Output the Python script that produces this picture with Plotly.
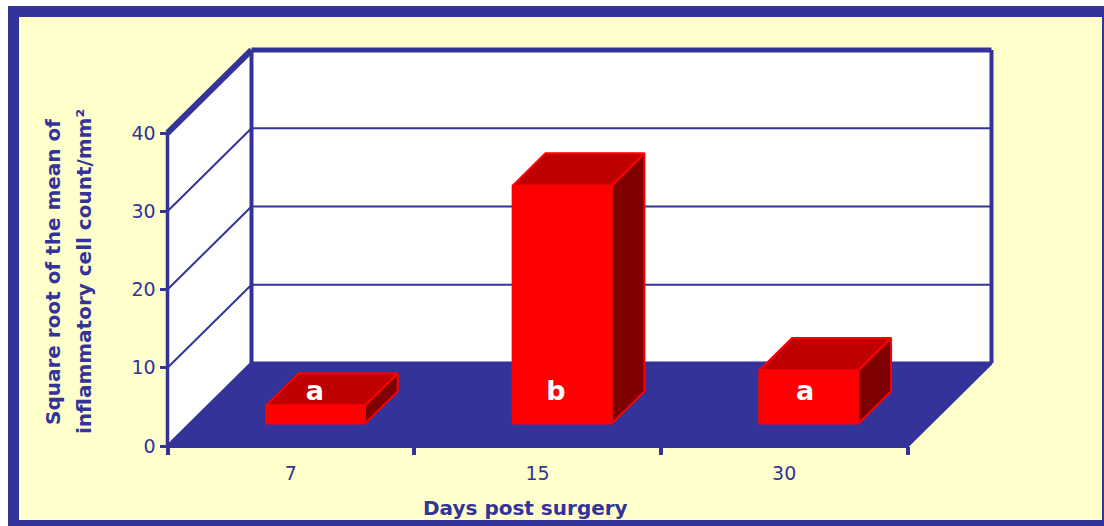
import plotly.graph_objects as go

days = ["7", "15", "30"]
values = [2.3, 30.4, 6.8]
bar_letters = ["a", "b", "a"]
y_ticks = [0, 10, 20, 30, 40]
y_title_lines = ["Square root of the mean of", "inflammatory cell count/mm²"]
x_title = "Days post surgery"

NAVY = "#333399"
YELLOW = "#FFFFCC"
W, H = 1104, 526
X0_PX, Y0_PX = 167.5, 446.0
CAT_PX, UNIT_PX = 740 / 3, 7.825
DEPTH_X = 84 / CAT_PX      # wall depth in category units
DEPTH_Y = 83 / UNIT_PX     # wall depth in value units
BAR_W = 99 / CAT_PX
BAR_SHIFT = 0.008
BAR_FRONT, BAR_BACK = 0.27, 0.66
LABEL_LEVEL = 6.7
LABEL_OFFSETS = [0.097, 0.075, 0.085]


def pt(cat, val, depth=0.0):
    return cat + depth * DEPTH_X, val + depth * DEPTH_Y


def poly(points, fill, line, width, name):
    xs, ys = zip(*(points + points[:1]))
    return go.Scatter(x=xs, y=ys, mode="lines", fill="toself", fillcolor=fill,
                      line=dict(color=line, width=width), hoverinfo="skip",
                      showlegend=False, name=name)


def seg(a, b, width, name="grid"):
    return go.Scatter(x=[a[0], b[0]], y=[a[1], b[1]], mode="lines",
                      line=dict(color=NAVY, width=width), hoverinfo="skip",
                      showlegend=False, name=name)


ncat = len(days)
top = y_ticks[-1]
fig = go.Figure()

# walls and floor
fig.add_trace(poly([pt(0, 0, 1), pt(ncat, 0, 1), pt(ncat, top, 1), pt(0, top, 1)], "white", NAVY, 0, "back wall"))
fig.add_trace(poly([pt(0, 0), pt(0, 0, 1), pt(0, top, 1), pt(0, top)], "white", NAVY, 0, "side wall"))
fig.add_trace(poly([pt(0, 0), pt(ncat, 0), pt(ncat, 0, 1), pt(0, 0, 1)], NAVY, NAVY, 3, "floor"))

# gridlines
for t in y_ticks[1:-1]:
    fig.add_trace(seg(pt(0, t), pt(0, t, 1), 2))
    fig.add_trace(seg(pt(0, t, 1), pt(ncat, t, 1), 2))

# wall edges
fig.add_trace(seg(pt(0, 0), pt(0, top), 3.5, "edge"))
fig.add_trace(seg(pt(0, 0, 1), pt(0, top, 1), 4, "edge"))
fig.add_trace(seg(pt(0, top), pt(0, top, 1), 6, "edge"))
fig.add_trace(seg(pt(0, top, 1), pt(ncat, top, 1), 5, "edge"))
fig.add_trace(seg(pt(ncat, 0, 1), pt(ncat, top, 1), 4, "edge"))
fig.add_trace(seg(pt(0, 0), pt(ncat, 0), 4, "edge"))

# bars
for i, v in enumerate(values):
    left = i + 0.5 + BAR_SHIFT - BAR_W / 2
    right = left + BAR_W
    f, b = BAR_FRONT, BAR_BACK
    fig.add_trace(poly([pt(right, 0, f), pt(right, 0, b), pt(right, v, b), pt(right, v, f)],
                       "#7F0000", "#FF0000", 2, "bar side"))
    fig.add_trace(poly([pt(left, v, f), pt(left, v, b), pt(right, v, b), pt(right, v, f)],
                       "#BF0000", "#FF0000", 2, "bar top"))
    fig.add_trace(poly([pt(left, 0, f), pt(right, 0, f), pt(right, v, f), pt(left, v, f)],
                       "#FF0000", "#FF0000", 2, "bar front"))

# letters
fig.add_trace(go.Scatter(
    x=[i + 0.5 + LABEL_OFFSETS[i] for i in range(ncat)], y=[LABEL_LEVEL] * ncat, mode="text",
    text=bar_letters, textposition="middle center",
    textfont=dict(family="DejaVu Sans", size=27, color="white", weight="bold"),
    hoverinfo="skip", showlegend=False, name="letters"))

title_font = dict(family="DejaVu Sans", size=20, color=NAVY, weight="bold")

fig.update_layout(
    width=W, height=H, margin=dict(l=0, r=0, t=0, b=0),
    paper_bgcolor="white", plot_bgcolor="rgba(0,0,0,0)", showlegend=False,
    xaxis=dict(
        range=[-X0_PX / CAT_PX, (W - X0_PX) / CAT_PX], showgrid=False, zeroline=False,
        showline=False, anchor="free", position=(H - Y0_PX) / H,
        tickmode="array", tickvals=[i + 0.5 for i in range(ncat)], ticktext=days,
        ticks="outside", ticklen=10, tickwidth=1, tickcolor="rgba(0,0,0,0)",
        tickfont=dict(family="DejaVu Sans", size=19, color=NAVY),
        minor=dict(tickmode="array", tickvals=list(range(ncat + 1)), ticks="outside",
                   ticklen=8, tickwidth=4, tickcolor=NAVY, showgrid=False),
    ),
    yaxis=dict(
        range=[(Y0_PX - H) / UNIT_PX, Y0_PX / UNIT_PX], showgrid=False, zeroline=False,
        showline=False, anchor="free", position=X0_PX / W,
        tickmode="array", tickvals=y_ticks, ticks="outside", ticklen=8, tickwidth=3,
        tickcolor=NAVY, tickfont=dict(family="DejaVu Sans", size=19, color=NAVY),
    ),
    shapes=[dict(type="rect", xref="paper", yref="paper", layer="below",
                 x0=13.5 / W, x1=1107.5 / W, y0=1 - 11.5 / H, y1=1 - 525.5 / H,
                 fillcolor=YELLOW, line=dict(color=NAVY, width=11))],
    annotations=[
        dict(text=y_title_lines[0], xref="paper", yref="paper", x=53 / W, y=1 - 272 / H,
             xanchor="center", yanchor="middle", textangle=-90, showarrow=False, font=title_font),
        dict(text=y_title_lines[1], xref="paper", yref="paper", x=84 / W, y=1 - 272 / H,
             xanchor="center", yanchor="middle", textangle=-90, showarrow=False, font=title_font),
        dict(text=x_title, xref="paper", yref="paper", x=525 / W, y=1 - 508 / H,
             xanchor="center", yanchor="middle", showarrow=False, font=title_font),
    ],
)

fig.write_html(
    "out.html",
    config={"displayModeBar": False},
    post_script="document.body.style.margin='0';document.documentElement.style.overflow='hidden';",
)
